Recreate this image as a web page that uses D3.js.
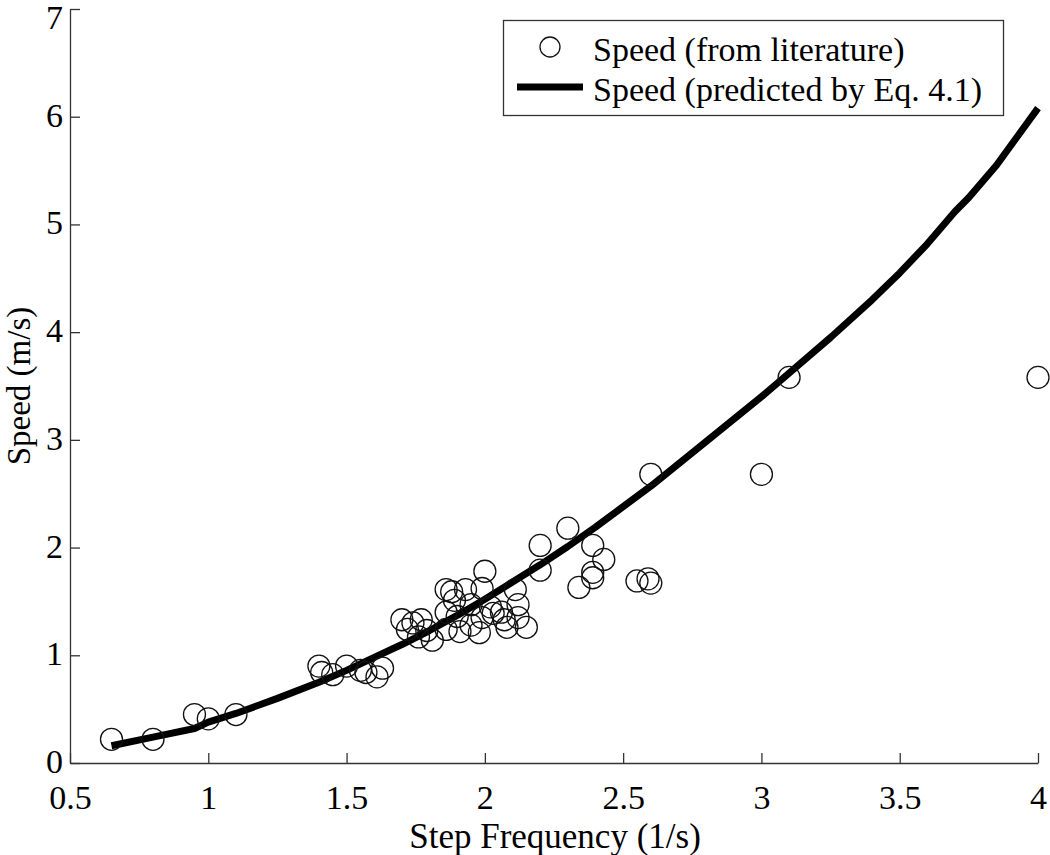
<!DOCTYPE html>
<html>
<head>
<meta charset="utf-8">
<script src="https://cdn.jsdelivr.net/npm/d3@7"></script>
<style>
  body { margin: 0; background: #fff; }
  svg text { font-family: "Liberation Serif", "Times New Roman", serif; fill: #000; }
</style>
</head>
<body>
<div id="vis-container"></div>
<script>
const width = 1050;
const height = 855;
const margin = { top: 9, right: 12, bottom: 92, left: 70 };

// literature data points (step frequency, speed)
const litFreq = [0.65, 0.80, 0.95, 1.00, 1.10, 1.40, 1.41, 1.45, 1.50, 1.55, 1.57, 1.61, 1.63,
  1.70, 1.72, 1.74, 1.76, 1.77, 1.79, 1.81, 1.86, 1.86, 1.88, 1.89, 1.86, 1.90, 1.91, 1.95,
  1.93, 1.95, 1.99, 2.00, 1.99, 2.02, 2.03, 2.06, 2.07, 2.08, 1.98, 2.11, 2.12, 2.12, 2.15,
  2.20, 2.20, 2.30, 2.34, 2.39, 2.39, 2.39, 2.43, 2.55, 2.59, 2.60, 2.60, 3.00, 3.10, 4.00];
const litSpeed = [0.22, 0.22, 0.45, 0.41, 0.45, 0.90, 0.84, 0.82, 0.90, 0.86, 0.84, 0.80, 0.88,
  1.33, 1.24, 1.30, 1.17, 1.33, 1.23, 1.14, 1.24, 1.61, 1.59, 1.51, 1.40, 1.36, 1.22, 1.28,
  1.61, 1.47, 1.35, 1.78, 1.62, 1.45, 1.39, 1.40, 1.33, 1.26, 1.21, 1.61, 1.47, 1.35, 1.26,
  2.02, 1.79, 2.18, 1.63, 2.02, 1.77, 1.72, 1.89, 1.69, 1.71, 1.67, 2.68, 2.68, 3.58, 3.58];

// predicted curve (Eq. 4.1)
const predFreq = [0.65, 0.80, 0.95, 1.00, 1.10, 1.25, 1.40, 1.50, 1.60, 1.70, 1.80, 1.90, 2.00,
  2.10, 2.20, 2.30, 2.40, 2.50, 2.60, 2.75, 3.00, 3.10, 3.25, 3.40, 3.50, 3.60, 3.70, 3.75, 3.85, 4.00];
const predSpeed = [0.16, 0.24, 0.32, 0.38, 0.46, 0.60, 0.75, 0.86, 0.98, 1.10, 1.23, 1.37, 1.52,
  1.68, 1.84, 2.01, 2.19, 2.38, 2.57, 2.88, 3.40, 3.62, 3.95, 4.30, 4.55, 4.82, 5.12, 5.25, 5.55, 6.08];

const xTicks = [0.5, 1, 1.5, 2, 2.5, 3, 3.5, 4];
const yTicks = [0, 1, 2, 3, 4, 5, 6, 7];

const legendLabels = ["Speed (from literature)", "Speed (predicted by Eq. 4.1)"];

const svg = d3.select("#vis-container")
  .append("svg")
  .attr("width", width)
  .attr("height", height);

const x = d3.scaleLinear()
  .domain([0.5, 4])
  .range([margin.left, width - margin.right]);

const y = d3.scaleLinear()
  .domain([0, 7])
  .range([height - margin.bottom, margin.top]);

// x axis, ticks pointing inward
const xAxis = svg.append("g")
  .attr("transform", `translate(0,${height - margin.bottom})`)
  .call(d3.axisTop(x).tickValues(xTicks).tickSize(10).tickFormat(d3.format("")).tickSizeOuter(0));
xAxis.select(".domain").attr("stroke", "#333").attr("stroke-width", 1.3);
xAxis.selectAll(".tick line").attr("stroke", "#333").attr("stroke-width", 1.3);
xAxis.selectAll(".tick text")
  .attr("y", 46)
  .attr("font-size", "34px")
  .attr("font-family", "Liberation Serif, serif")
  .attr("text-anchor", "middle");

// y axis
const yAxis = svg.append("g")
  .attr("transform", `translate(${margin.left},0)`)
  .call(d3.axisRight(y).tickValues(yTicks).tickSize(10).tickFormat(d3.format("d")).tickSizeOuter(0));
yAxis.select(".domain").attr("stroke", "#333").attr("stroke-width", 1.3);
yAxis.selectAll(".tick text")
  .attr("x", -7)
  .attr("dy", (d) => d === 7 ? "0.56em" : "0.28em") // top label pushed down to stay inside
  .attr("font-size", "34px")
  .attr("font-family", "Liberation Serif, serif")
  .attr("text-anchor", "end");
yAxis.selectAll(".tick line").attr("stroke", "#333").attr("stroke-width", 1.3);

// axis labels
svg.append("text")
  .attr("x", 555)
  .attr("y", 848)
  .attr("text-anchor", "middle")
  .attr("font-size", "35px")
  .text("Step Frequency (1/s)");

svg.append("text")
  .attr("transform", `translate(30,${(margin.top + height - margin.bottom) / 2}) rotate(-90)`)
  .attr("text-anchor", "middle")
  .attr("font-size", "33px")
  .text("Speed (m/s)");

// predicted line
const line = d3.line()
  .x((d, i) => x(predFreq[i]))
  .y((d, i) => y(predSpeed[i]));

svg.append("path")
  .datum(predFreq)
  .attr("d", line)
  .attr("fill", "none")
  .attr("stroke", "#000")
  .attr("stroke-width", 7)
  .attr("stroke-linejoin", "round");

// literature points
svg.selectAll(".pt")
  .data(litFreq)
  .enter()
  .append("circle")
  .attr("class", "pt")
  .attr("cx", (d) => x(d))
  .attr("cy", (d, i) => y(litSpeed[i]))
  .attr("r", 11)
  .attr("fill", "none")
  .attr("stroke", "#111")
  .attr("stroke-width", 1.3);

// legend
const legend = svg.append("g");
legend.append("rect")
  .attr("x", 503.5).attr("y", 20.5)
  .attr("width", 500).attr("height", 95)
  .attr("fill", "#fff")
  .attr("stroke", "#333")
  .attr("stroke-width", 1.3);

legend.append("circle")
  .attr("cx", 550).attr("cy", 47).attr("r", 10)
  .attr("fill", "none").attr("stroke", "#111").attr("stroke-width", 1.3);

legend.append("line")
  .attr("x1", 517).attr("x2", 583)
  .attr("y1", 87).attr("y2", 87)
  .attr("stroke", "#000").attr("stroke-width", 7);

legend.selectAll(".lg")
  .data(legendLabels)
  .enter()
  .append("text")
  .attr("class", "lg")
  .attr("x", 593)
  .attr("y", (d, i) => 61 + i * 40)
  .attr("font-size", "34px")
  .text((d) => d);
</script>
</body>
</html>
